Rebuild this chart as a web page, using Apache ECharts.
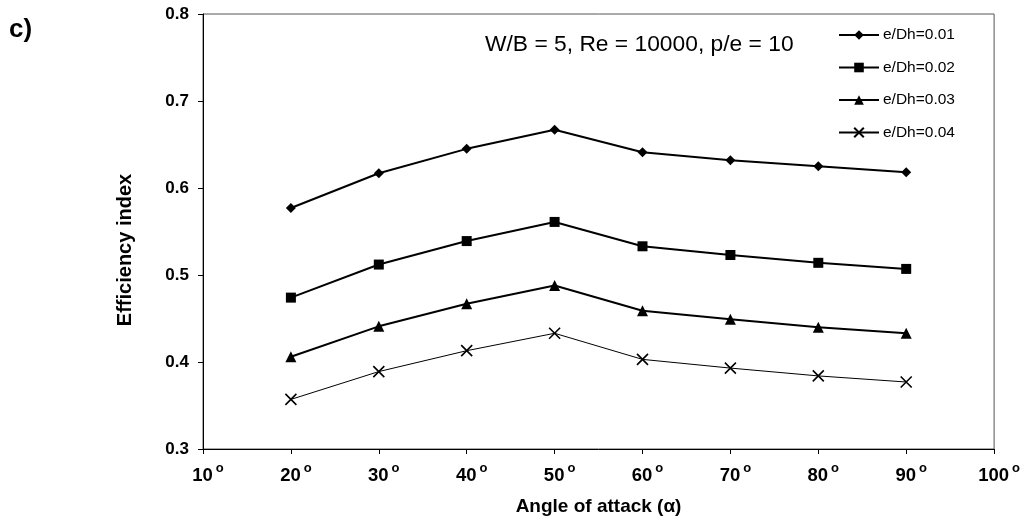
<!DOCTYPE html>
<html>
<head>
<meta charset="utf-8">
<script src="https://cdn.jsdelivr.net/npm/echarts@6/dist/echarts.min.js"></script>
<style>html,body{margin:0;padding:0;background:#fff}#c{width:1023px;height:521px}</style>
</head>
<body>
<div id="c"></div>
<script>
const angles = [20, 30, 40, 50, 60, 70, 80, 90];
const seriesNames = ['e/Dh=0.01', 'e/Dh=0.02', 'e/Dh=0.03', 'e/Dh=0.04'];
const eff001 = [0.577, 0.617, 0.645, 0.667, 0.641, 0.632, 0.625, 0.618];
const eff002 = [0.474, 0.512, 0.539, 0.561, 0.533, 0.523, 0.514, 0.507];
const eff003 = [0.406, 0.441, 0.467, 0.488, 0.459, 0.449, 0.440, 0.433];
const eff004 = [0.357, 0.389, 0.413, 0.433, 0.403, 0.393, 0.384, 0.377];
const xTicks = [10, 20, 30, 40, 50, 60, 70, 80, 90, 100];
const yTicks = [0.3, 0.4, 0.5, 0.6, 0.7, 0.8];
const annotation = 'W/B = 5, Re = 10000, p/e = 10';
const panelLabel = 'c)';
const xTitle = 'Angle of attack (\u03b1)';
const yTitle = 'Efficiency index';

const FONT = '"Liberation Sans", Arial, sans-serif';
const pair = (arr) => angles.map((a, i) => [a, arr[i]]);
const crossPath = 'path://M0,0L10,10M10,0L0,10';

const chart = echarts.init(document.getElementById('c'), null, {renderer: 'canvas'});
const mk = (name, data, symbol, size, lw) => ({
  name, type: 'line', data: pair(data), symbol, symbolSize: size,
  lineStyle: {color: '#000', width: lw},
  itemStyle: symbol === crossPath ? {color: '#000', borderColor: '#000', borderWidth: 1.6} : {color: '#000'},
  emphasis: {disabled: true}, animation: false
});
chart.setOption({
  animation: false,
  textStyle: {fontFamily: FONT},
  grid: {left: 203, top: 14, right: 25, bottom: 72, show: true, borderColor: '#555', borderWidth: 1, containLabel: false},
  xAxis: {
    type: 'value', min: xTicks[0], max: xTicks[xTicks.length - 1], interval: 10,
    name: xTitle, nameLocation: 'middle', nameGap: 48,
    nameTextStyle: {fontFamily: FONT, fontWeight: 'bold', fontSize: 19, color: '#000'},
    axisLine: {show: true, lineStyle: {color: '#000', width: 1}},
    axisTick: {show: true, inside: false, length: 5, lineStyle: {color: '#000'}},
    splitLine: {show: false},
    axisLabel: {
      margin: 11, color: '#000',
      formatter: (v) => '{p|}{n|' + v + '}{s|o}',
      rich: {
        p: {width: 10},
        n: {fontFamily: FONT, fontWeight: 'bold', fontSize: 18.5, color: '#000', padding: [6, 0, 0, 0]},
        s: {fontFamily: FONT, fontWeight: 'bold', fontSize: 13, color: '#000', padding: [0, 0, 9, 3]}
      }
    }
  },
  yAxis: {
    type: 'value', min: yTicks[0], max: yTicks[yTicks.length - 1], interval: 0.1,
    axisLine: {show: true, lineStyle: {color: '#000', width: 1}},
    axisTick: {show: true, inside: false, length: 5, lineStyle: {color: '#000'}},
    splitLine: {show: false},
    axisLabel: {margin: 14, color: '#000', fontFamily: FONT, fontWeight: 'bold', fontSize: 17, formatter: (v) => v.toFixed(1)}
  },
  legend: {
    orient: 'vertical', left: 838, top: 27, padding: 0, itemWidth: 40, itemHeight: 12, itemGap: 16.5,
    textStyle: {fontFamily: FONT, fontSize: 15.5, color: '#000', padding: [0, 0, 0, -1]},
    data: seriesNames
  },
  graphic: [
    {type: 'text', left: 485, top: 33, style: {text: annotation, fontFamily: FONT, fontSize: 22.8, fill: '#000'}},
    {type: 'text', left: 9, top: 17, style: {text: panelLabel, fontFamily: FONT, fontSize: 26, fontWeight: 'bold', fill: '#000'}},
    {type: 'text', x: 125, y: 250, rotation: Math.PI / 2,
      style: {text: yTitle, fontFamily: FONT, fontSize: 20, fontWeight: 'bold', fill: '#000', align: 'center', verticalAlign: 'middle'}}
  ],
  series: [
    mk(seriesNames[0], eff001, 'diamond', 10, 2),
    mk(seriesNames[1], eff002, 'rect', 10, 2),
    mk(seriesNames[2], eff003, 'triangle', 11, 2),
    mk(seriesNames[3], eff004, crossPath, 11, 1)
  ]
});
</script>
</body>
</html>
